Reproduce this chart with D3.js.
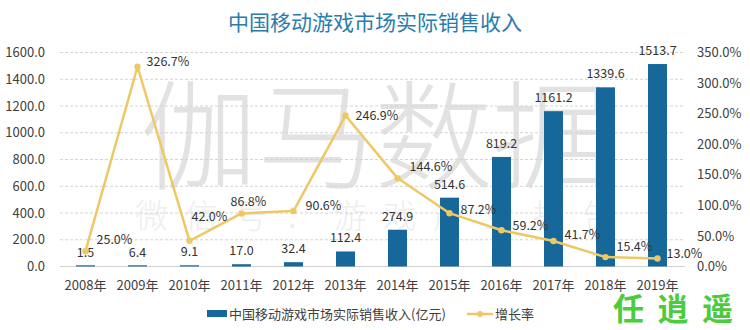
<!DOCTYPE html>
<html>
<head>
<meta charset="utf-8">
<script src="https://cdn.jsdelivr.net/npm/d3@7"></script>
<style>
html,body{margin:0;padding:0;background:#fff;}
svg{display:block;font-family:"Noto Sans CJK SC","Noto Sans",sans-serif;}
</style>
</head>
<body>
<svg id="chart" width="750" height="330"></svg>
<script>
const categories = ["2008年","2009年","2010年","2011年","2012年","2013年","2014年","2015年","2016年","2017年","2018年","2019年"];
const revenue = [1.5, 6.4, 9.1, 17.0, 32.4, 112.4, 274.9, 514.6, 819.2, 1161.2, 1339.6, 1513.7];
const growth = [25.0, 326.7, 42.0, 86.8, 90.6, 246.9, 144.6, 87.2, 59.2, 41.7, 15.4, 13.0];
const leftTicks = [0, 200, 400, 600, 800, 1000, 1200, 1400, 1600];
const rightTicks = [0, 50, 100, 150, 200, 250, 300, 350];
const title = "中国移动游戏市场实际销售收入";
const seriesNames = ["中国移动游戏市场实际销售收入(亿元)", "增长率"];
// label nudges (px) for growth labels
const growthLabelDy = [-12, -5, -24, -12, -5, 0, -11, -4, -5, -6, -10, -5];
const growthLabelDx = [11, 9, 2, -11, 12, 10, 12, 11, 11, 11, 11, 9];

const svg = d3.select("#chart");
const blue = "#17689a", gold = "#efc866";

const x = d3.scaleBand().domain(categories).range([59.5, 683.5]).paddingInner(0.635).paddingOuter(0.3175);
const y = d3.scaleLinear().domain([0, 1600]).range([266.5, 52.5]);
const y2 = d3.scaleLinear().domain([0, 350]).range([266.5, 52.5]);
const cx = d => x(d) + x.bandwidth() / 2;

// watermark
svg.append("text").attr("x", 375).attr("y", 180).attr("text-anchor", "middle")
  .attr("font-size", 118).attr("font-weight", 300).attr("fill", "#e2e2e2")
  .attr("textLength", 470).attr("lengthAdjust", "spacing").text("伽马数据");
svg.append("text").attr("x", 375).attr("y", 228).attr("text-anchor", "middle")
  .attr("font-size", 33).attr("font-weight", 300).attr("fill", "#eeeeee")
  .attr("textLength", 480).attr("lengthAdjust", "spacing").text("微信号：游戏产业报告");

// title
svg.append("text").attr("x", 375).attr("y", 30).attr("text-anchor", "middle")
  .attr("font-size", 21).attr("fill", "#2a7cab").text(title);

// gridlines
svg.append("g").selectAll("line").data(leftTicks.filter(d => d > 0)).join("line")
  .attr("x1", 60).attr("x2", 685).attr("y1", d => y(d)).attr("y2", d => y(d))
  .attr("stroke", "#d4d4d4").attr("stroke-width", 1).attr("stroke-dasharray", "3,2");
svg.append("line").attr("x1", 60).attr("x2", 685).attr("y1", y(0)).attr("y2", y(0))
  .attr("stroke", "#d0d0d0").attr("stroke-width", 1);

// left axis
const la = svg.append("g").attr("transform", "translate(45,0)")
  .call(d3.axisLeft(y).tickValues(leftTicks).tickFormat(d3.format(".1f")).tickSize(0).tickPadding(0));
la.select(".domain").remove();
la.selectAll("text").attr("font-size", 13).attr("fill", "#404040").attr("font-family", "'Noto Sans CJK SC',sans-serif");

// right axis
const ra = svg.append("g").attr("transform", "translate(697,0)")
  .call(d3.axisRight(y2).tickValues(rightTicks).tickFormat(d => d3.format(".1f")(d) + "%").tickSize(0).tickPadding(0));
ra.select(".domain").remove();
ra.selectAll("text").attr("font-size", 13).attr("fill", "#404040").attr("font-family", "'Noto Sans CJK SC',sans-serif");

// x axis
const xa = svg.append("g").attr("transform", "translate(0,281)")
  .call(d3.axisBottom(x).tickSize(0).tickPadding(0));
xa.select(".domain").remove();
xa.selectAll("text").attr("font-size", 13).attr("fill", "#404040").attr("dy", "0.71em").attr("font-family", "'Noto Sans CJK SC',sans-serif");

// bars
svg.append("g").selectAll("rect").data(categories).join("rect")
  .attr("x", d => x(d)).attr("width", x.bandwidth())
  .attr("y", (d, i) => Math.min(y(revenue[i]), y(0) - 1.2))
  .attr("height", (d, i) => Math.max(y(0) - y(revenue[i]), 1.2))
  .attr("fill", blue);

// bar labels
svg.append("g").selectAll("text").data(categories).join("text")
  .attr("x", d => cx(d)).attr("y", (d, i) => y(revenue[i]) - 9)
  .attr("text-anchor", "middle").attr("font-size", 12.5).attr("fill", "#333")
  .text((d, i) => d3.format(".1f")(revenue[i]));

// line
const line = d3.line().x((d, i) => cx(categories[i])).y(d => y2(d));
svg.append("path").datum(growth).attr("d", line)
  .attr("fill", "none").attr("stroke", gold).attr("stroke-width", 2.5).attr("stroke-linejoin", "round");
svg.append("g").selectAll("circle").data(growth).join("circle")
  .attr("cx", (d, i) => cx(categories[i])).attr("cy", d => y2(d)).attr("r", 3.2)
  .attr("fill", gold);

// growth labels
svg.append("g").selectAll("text").data(growth).join("text")
  .attr("x", (d, i) => cx(categories[i]) + growthLabelDx[i])
  .attr("y", (d, i) => y2(d) + growthLabelDy[i]).attr("dy", "0.35em")
  .attr("font-size", 12.5).attr("fill", "#333")
  .text(d => d3.format(".1f")(d) + "%");

// legend
const lg = svg.append("g");
lg.append("rect").attr("x", 207).attr("y", 310).attr("width", 20).attr("height", 7).attr("fill", blue);
lg.append("text").attr("x", 229).attr("y", 314).attr("dy", "0.35em").attr("font-size", 13).attr("fill", "#404040").text(seriesNames[0]);
lg.append("line").attr("x1", 467).attr("x2", 493).attr("y1", 314).attr("y2", 314).attr("stroke", gold).attr("stroke-width", 2.5);
lg.append("circle").attr("cx", 480).attr("cy", 314).attr("r", 3).attr("fill", gold);
lg.append("text").attr("x", 495).attr("y", 314).attr("dy", "0.35em").attr("font-size", 13).attr("fill", "#404040").text(seriesNames[1]);

// signature
svg.append("text").attr("x", 673).attr("y", 320).attr("text-anchor", "middle")
  .attr("font-size", 31).attr("font-weight", 700).attr("fill", "#4ccc3c")
  .attr("textLength", 120).attr("lengthAdjust", "spacing").text("任逍遥");
</script>
</body>
</html>
